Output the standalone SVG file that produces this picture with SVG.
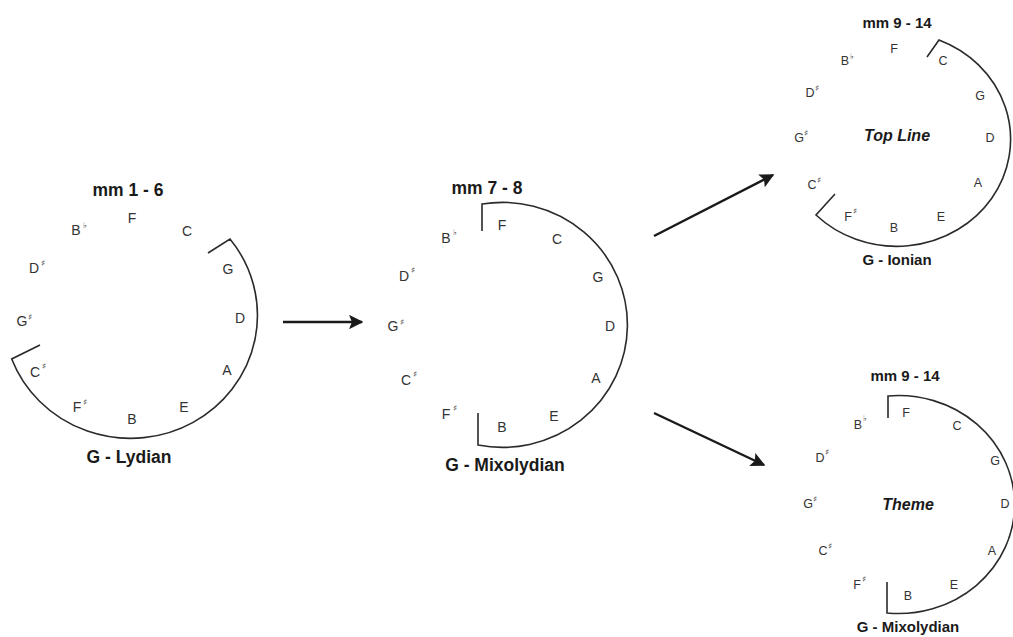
<svg xmlns="http://www.w3.org/2000/svg" width="1013" height="637" viewBox="0 0 1013 637">
<style>
.bg{fill:#fff}
.arc{fill:none;stroke:#2a2a2a;stroke-width:1.6}
.n1{font-family:"Liberation Sans",Arial,sans-serif;font-size:14px;fill:#333;text-anchor:middle}
.n2{font-family:"Liberation Sans",Arial,sans-serif;font-size:12.5px;fill:#333;text-anchor:middle}
.acc{font-family:"DejaVu Sans",sans-serif;font-size:8.5px;font-weight:bold;fill:#333;text-anchor:middle}
.t1{font-family:"Liberation Sans",Arial,sans-serif;font-size:17.5px;font-weight:bold;fill:#1a1a1a;text-anchor:middle}
.t2{font-family:"Liberation Sans",Arial,sans-serif;font-size:15px;font-weight:bold;fill:#1a1a1a;text-anchor:middle}
.lab{font-family:"Liberation Sans",Arial,sans-serif;font-size:16px;font-weight:bold;font-style:italic;fill:#1a1a1a;text-anchor:middle}
.con{stroke:#1a1a1a;stroke-width:2.4;fill:none}
</style>
<defs>
<marker id="ah" viewBox="0 0 10 10" refX="9" refY="5" markerWidth="6.5" markerHeight="6" orient="auto" markerUnits="strokeWidth">
<path d="M0,0 L10,5 L0,10 L2,5 Z" fill="#1a1a1a"/>
</marker>
</defs>
<rect class="bg" x="0" y="0" width="1013" height="637"/>

<g id="lydian">
<text class="t1" x="128" y="196">mm 1 - 6</text>
<path class="arc" d="M208 253 L230 239 A127 123 0 1 1 11.7 359 L40 345"/>
<text class="n1" x="132" y="223">F</text>
<text class="n1" x="187" y="236">C</text>
<text class="n1" x="228" y="274">G</text>
<text class="n1" x="240" y="323">D</text>
<text class="n1" x="227" y="375">A</text>
<text class="n1" x="184" y="412">E</text>
<text class="n1" x="132" y="424">B</text>
<text class="n1" x="77" y="412">F</text><text class="acc" x="85" y="405">♯</text>
<text class="n1" x="35" y="377">C</text><text class="acc" x="44" y="369">♯</text>
<text class="n1" x="22" y="326">G</text><text class="acc" x="30" y="320">♯</text>
<text class="n1" x="34" y="273">D</text><text class="acc" x="43" y="266">♯</text>
<text class="n1" x="76" y="235">B</text><text class="acc" x="85" y="228">♭</text>
<text class="t1" x="129" y="463">G - Lydian</text>
</g>

<g id="mixolydian1">
<text class="t1" x="487" y="194">mm 7 - 8</text>
<path class="arc" d="M482 231 L482 204 A125 122.5 0 1 1 478 445 L478 413"/>
<text class="n1" x="502" y="230">F</text>
<text class="n1" x="557" y="244">C</text>
<text class="n1" x="598" y="282">G</text>
<text class="n1" x="610" y="331">D</text>
<text class="n1" x="596" y="383">A</text>
<text class="n1" x="554" y="421">E</text>
<text class="n1" x="502" y="432">B</text>
<text class="n1" x="446" y="419">F</text><text class="acc" x="455" y="411">♯</text>
<text class="n1" x="406" y="385">C</text><text class="acc" x="415" y="377">♯</text>
<text class="n1" x="393" y="331">G</text><text class="acc" x="402" y="325">♯</text>
<text class="n1" x="404" y="281">D</text><text class="acc" x="413" y="273">♯</text>
<text class="n1" x="446" y="243">B</text><text class="acc" x="455" y="235">♭</text>
<text class="t1" x="505" y="471">G - Mixolydian</text>
</g>

<g id="ionian">
<text class="t2" x="897" y="28">mm 9 - 14</text>
<path class="arc" d="M927 57 L939 40 A114 107 0 1 1 816 215 L835 194"/>
<text class="n2" x="894" y="53">F</text>
<text class="n2" x="943" y="65">C</text>
<text class="n2" x="980" y="100">G</text>
<text class="n2" x="990" y="142">D</text>
<text class="n2" x="978" y="187">A</text>
<text class="n2" x="941" y="221">E</text>
<text class="n2" x="894" y="232">B</text>
<text class="n2" x="848" y="221">F</text><text class="acc" x="855" y="214">♯</text>
<text class="n2" x="812" y="189">C</text><text class="acc" x="819" y="183">♯</text>
<text class="n2" x="799" y="142">G</text><text class="acc" x="806" y="136">♯</text>
<text class="n2" x="810" y="97">D</text><text class="acc" x="817" y="91">♯</text>
<text class="n2" x="845" y="65">B</text><text class="acc" x="852" y="59">♭</text>
<text class="lab" x="897" y="141">Top Line</text>
<text class="t2" x="897" y="265">G - Ionian</text>
</g>

<g id="mixolydian2">
<text class="t2" x="905" y="381">mm 9 - 14</text>
<path class="arc" d="M888 418 L888 396 A116 109 0 1 1 887 613 L887 582"/>
<text class="n2" x="906" y="417">F</text>
<text class="n2" x="957" y="430">C</text>
<text class="n2" x="995" y="465">G</text>
<text class="n2" x="1005" y="508">D</text>
<text class="n2" x="992" y="555">A</text>
<text class="n2" x="954" y="589">E</text>
<text class="n2" x="908" y="600">B</text>
<text class="n2" x="857" y="589">F</text><text class="acc" x="864" y="582">♯</text>
<text class="n2" x="823" y="555">C</text><text class="acc" x="830" y="549">♯</text>
<text class="n2" x="808" y="508">G</text><text class="acc" x="815" y="502">♯</text>
<text class="n2" x="820" y="462">D</text><text class="acc" x="827" y="455">♯</text>
<text class="n2" x="858" y="429">B</text><text class="acc" x="865" y="421">♭</text>
<text class="lab" x="908" y="510">Theme</text>
<text class="t2" x="908" y="632">G - Mixolydian</text>
</g>

<g id="connectors">
<line class="con" x1="283" y1="322" x2="362" y2="322" marker-end="url(#ah)"/>
<line class="con" x1="654" y1="236" x2="773" y2="175" marker-end="url(#ah)"/>
<line class="con" x1="654" y1="413" x2="764" y2="465" marker-end="url(#ah)"/>
</g>
</svg>
